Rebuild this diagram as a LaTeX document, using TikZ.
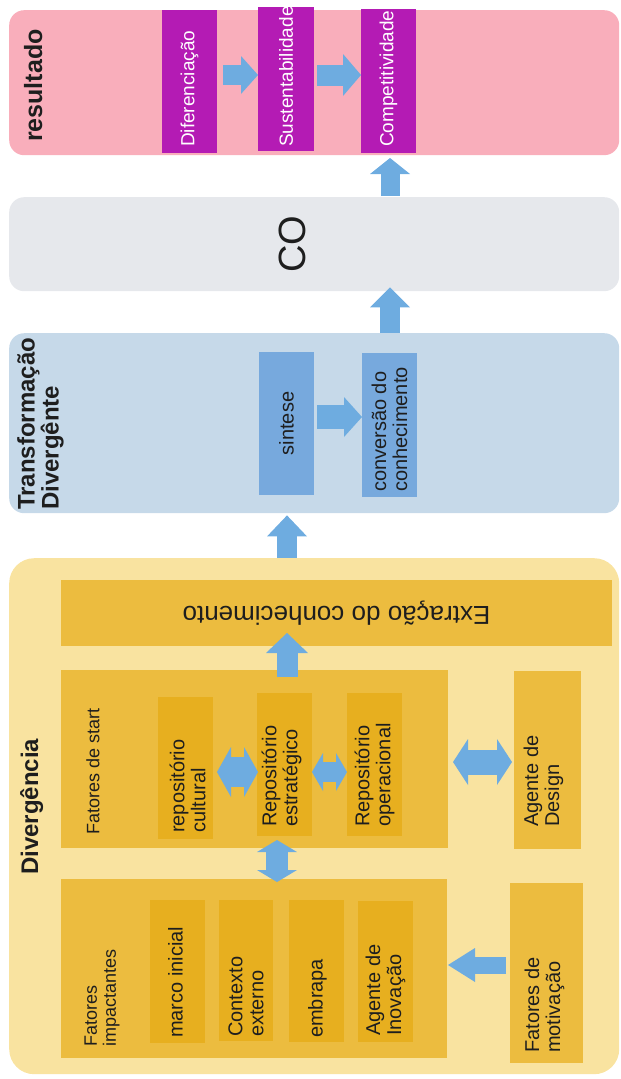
\documentclass[tikz,border=0pt]{standalone}
\usepackage{fontspec}
\setmainfont{Liberation Sans}
\usetikzlibrary{arrows.meta,calc}

\definecolor{pinkpanel}{HTML}{F9AEBB}
\definecolor{greypanel}{HTML}{E6E8EC}
\definecolor{bluepanel}{HTML}{C6D9E9}
\definecolor{yellowpanel}{HTML}{F9E3A0}
\definecolor{magentabox}{HTML}{B41BB4}
\definecolor{bluebox}{HTML}{77A9DD}
\definecolor{goldbox}{HTML}{ECBC3F}
\definecolor{deepgold}{HTML}{E7AF1F}
\definecolor{arrowblue}{HTML}{6EACE0}
\definecolor{ink}{HTML}{1E1E1E}

\tikzset{
  panel/.style={fill=#1, rounded corners=15pt, draw=none, inner sep=0pt, anchor=north west},
  box/.style={fill=#1, draw=none, inner sep=0pt, outer sep=0pt, anchor=north west},
  vtext/.style={rotate=90, inner sep=0pt, align=left, text=ink,
    font=\fontsize{20}{21}\selectfont},
  smalltext/.style={vtext, font=\fontsize{18}{19}\selectfont},
  whitetext/.style={vtext, text=white, font=\fontsize{19}{20}\selectfont},
  title/.style={rotate=90, inner sep=0pt, align=left, text=ink,
    font=\fontsize{24}{24}\selectfont\bfseries},
  barrow/.style n args={3}{draw=arrowblue, line width=#1,
    -{Triangle[width=#2,length=#3,line width=0pt]}},
  dbarrow/.style n args={3}{draw=arrowblue, line width=#1,
    {Triangle[width=#2,length=#3,line width=0pt]}-{Triangle[width=#2,length=#3,line width=0pt]}},
}

\begin{document}
\begin{tikzpicture}[x=1pt,y=-1pt]
\useasboundingbox (0,0) rectangle (621,1079);

% ---------- panels ----------
\node[panel=pinkpanel,   minimum width=610pt, minimum height=145pt] (res) at (9,10) {};
\node[panel=greypanel,   minimum width=610pt, minimum height=94pt]  (co)  at (9,197) {};
\node[panel=bluepanel,   minimum width=610pt, minimum height=180pt] (tra) at (9,333) {};
\node[panel=yellowpanel, rounded corners=25pt, minimum width=610pt, minimum height=516pt] (div) at (9,558) {};

% ---------- resultado ----------
\node[title, font=\fontsize{25}{25}\selectfont\bfseries, anchor=base west] (resT) at (42,142) {resultado};
\node[box=magentabox, minimum width=55pt, minimum height=143pt] (dif)  at (162,10) {};
\node[box=magentabox, minimum width=56pt, minimum height=144pt] (sus)  at (258,7) {};
\node[box=magentabox, minimum width=55pt, minimum height=144pt] (comp) at (361,9) {};
\node[whitetext, anchor=west] (difT)  at ($(dif.south)+(0,-6)$)  {Diferenciação};
\node[whitetext, anchor=west] (susT)  at ($(sus.south)+(0,-4)$)  {Sustentabilidade};
\node[whitetext, anchor=west] (compT) at ($(comp.south)+(0,-6)$) {Competitividade};

% ---------- CO ----------
\node[rotate=90, inner sep=0pt, text=ink, font=\fontsize{38}{38}\selectfont] (coT) at (292,244) {CO};

% ---------- Transformação Divergente ----------
\node[title, anchor=north west] (traT) at (17,510) {Transformação\\Divergênte};
\node[box=bluebox, minimum width=55pt, minimum height=143pt] (sint) at (259,352) {};
\node[box=bluebox, minimum width=55pt, minimum height=144pt] (conv) at (362,353) {};
\node[vtext, anchor=center] (sintT) at (sint.center) {sintese};
\node[vtext, anchor=west] (convT) at ($(conv.south)+(0,-5)$) {conversão do\\conhecimento};

% ---------- Divergência ----------
\node[title, anchor=base west] (divT) at (38,875) {Divergência};

\node[box=goldbox, minimum width=551pt, minimum height=66pt] (ext) at (61,580) {};
\node[rotate=180, inner sep=0pt, text=ink, font=\fontsize{26}{26}\selectfont] (extT) at (ext.center) {Extração do conhecimento};

% fatores de start
\node[box=goldbox, minimum width=387pt, minimum height=178pt] (start) at (61,670) {};
\node[smalltext, anchor=west] (startT) at (93,835) {Fatores de start};
\node[box=deepgold, minimum width=55pt, minimum height=142pt] (cult) at (158,697) {};
\node[box=deepgold, minimum width=55pt, minimum height=143pt] (estr) at (257,693) {};
\node[box=deepgold, minimum width=55pt, minimum height=143pt] (oper) at (347,693) {};
\node[vtext, anchor=west] (cultT) at ($(cult.south)+(2,-6)$) {repositório\\cultural};
\node[vtext, anchor=west] (estrT) at ($(estr.south)+(-3,-9)$) {Repositório\\estratégico};
\node[vtext, anchor=west] (operT) at ($(oper.south)+(0,-9)$) {Repositório\\operacional};

\node[box=goldbox, minimum width=67pt, minimum height=178pt] (design) at (514,671) {};
\node[vtext, anchor=west] (designT) at ($(design.south)+(-4,-22)$) {Agente de\\Design};

% fatores impactantes
\node[box=goldbox, minimum width=386pt, minimum height=179pt] (imp) at (61,879) {};
\node[smalltext, anchor=west] (impT) at (102,1047) {Fatores\\impactantes};
\node[box=deepgold, minimum width=55pt, minimum height=143pt] (marco) at (150,900) {};
\node[box=deepgold, minimum width=54pt, minimum height=141pt] (ctx)   at (219,900) {};
\node[box=deepgold, minimum width=55pt, minimum height=142pt] (emb)   at (289,900) {};
\node[box=deepgold, minimum width=55pt, minimum height=141pt] (inov)  at (358,901) {};
\node[vtext, anchor=west] (marcoT) at ($(marco.south)+(-2,-5)$) {marco inicial};
\node[vtext, anchor=west] (ctxT)   at ($(ctx.south)+(0,-4)$)    {Contexto\\externo};
\node[vtext, anchor=west] (embT)   at ($(emb.south)+(1,-4)$)    {embrapa};
\node[vtext, anchor=west] (inovT)  at ($(inov.south)+(0,-6)$)   {Agente de\\Inovação};

\node[box=goldbox, minimum width=73pt, minimum height=180pt] (motiv) at (510,883) {};
\node[vtext, anchor=west] (motivT) at ($(motiv.south)+(-2,-10)$) {Fatores de\\motivação};

% ---------- block arrows ----------
\coordinate (rowR) at (0,75);
\coordinate (rowT) at (0,417);
\coordinate (rowS) at (0,772);
\coordinate (rowD) at (0,762);
\coordinate (rowM) at (0,965);
\coordinate (colC) at (390,0);
\coordinate (colD) at (287,0);
\coordinate (colV) at (277,0);

\draw[barrow={20pt}{38pt}{17pt}, shorten <=6pt] (dif.east |- rowR) -- (sus.west |- rowR);
\draw[barrow={21pt}{42pt}{18pt}, shorten <=3pt] (sus.east |- rowR) -- (comp.west |- rowR);
\draw[barrow={19pt}{40pt}{16pt}, shorten <=1pt, shorten >=5pt] (co.north -| colC) -- (comp.south -| colC);
\draw[barrow={20pt}{40pt}{20pt}, shorten >=-4pt] (tra.north -| colC) -- (co.south -| colC);
\draw[barrow={24pt}{40pt}{18pt}, shorten <=3pt] (sint.east |- rowT) -- (conv.west |- rowT);
\draw[barrow={20pt}{40pt}{21pt}, shorten >=2pt] (div.north -| colD) -- (tra.south -| colD);
\draw[barrow={21pt}{42pt}{20pt}, shorten <=-7pt, shorten >=-13pt] (start.north -| colD) -- (ext.south -| colD);

\draw[dbarrow={30pt}{50pt}{14pt}, shorten <=4pt, shorten >=-1pt] (cult.east |- rowS) -- (estr.west |- rowS);
\draw[dbarrow={20pt}{38pt}{11pt}] (estr.east |- rowS) -- (oper.west |- rowS);
\draw[dbarrow={25pt}{46pt}{15pt}, shorten <=5pt, shorten >=2pt] (start.east |- rowD) -- (design.west |- rowD);
\draw[dbarrow={22pt}{40pt}{12pt}, shorten <=-8pt, shorten >=-3pt] (start.south -| colV) -- (imp.north -| colV);
\draw[barrow={17pt}{34pt}{27pt}, shorten <=4pt, shorten >=1pt] (motiv.west |- rowM) -- (imp.east |- rowM);

\end{tikzpicture}
\end{document}
